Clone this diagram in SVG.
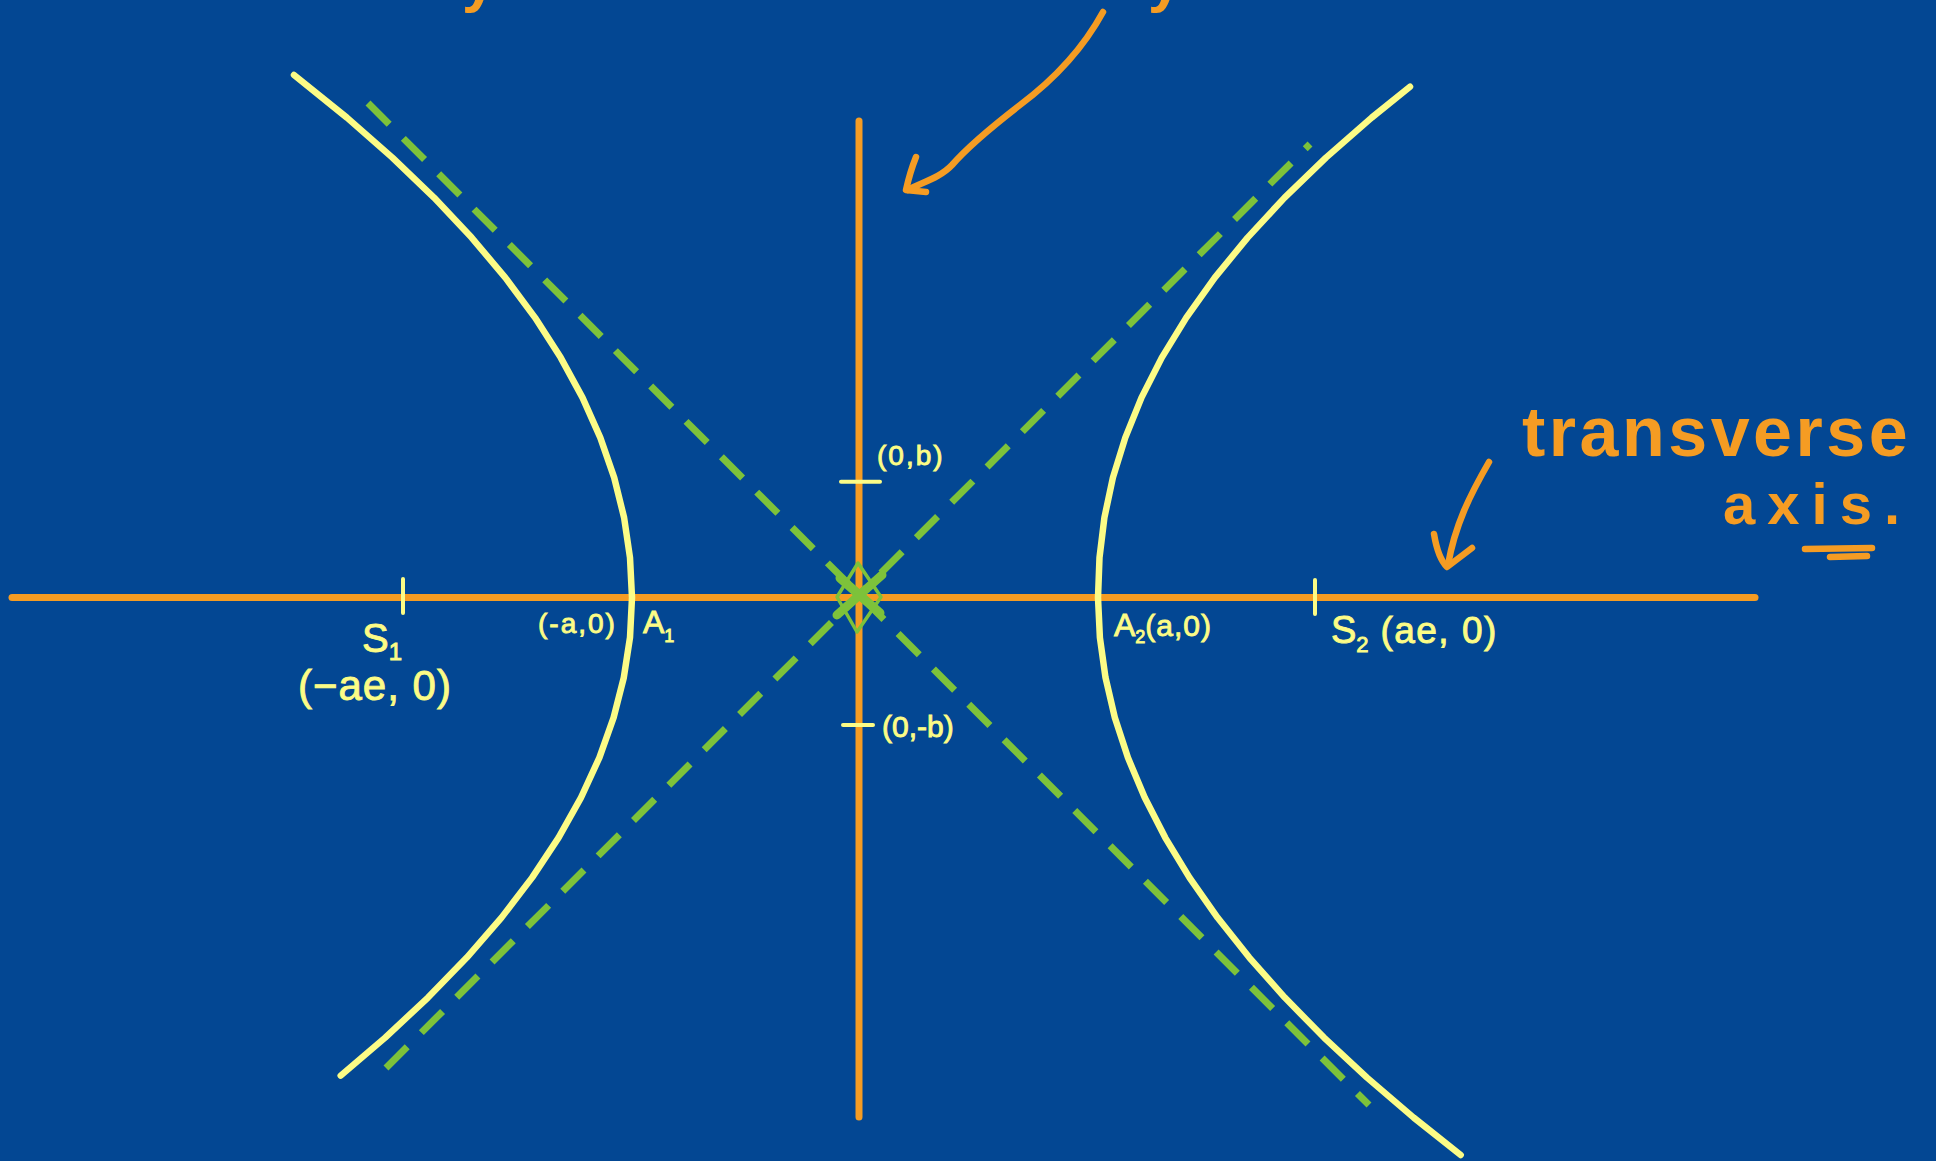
<svg xmlns="http://www.w3.org/2000/svg" width="1936" height="1161" viewBox="0 0 1936 1161">
<style>
.axis{stroke:#F59C23;stroke-width:7;stroke-linecap:round;fill:none}
.hyp{stroke:#FCFC86;stroke-width:6.5;stroke-linecap:round;stroke-linejoin:round;fill:none}
.asym{stroke:#7DC23A;stroke-width:7;stroke-dasharray:30 20;fill:none}
.tick{stroke:#FCFC86;stroke-width:4;stroke-linecap:round}
.lbl{fill:#FCFC86;stroke:#FCFC86;stroke-width:0.9;font-family:"Liberation Sans",Arial,sans-serif}
.ann{fill:#F59C23;font-family:"Liberation Sans",Arial,sans-serif;font-weight:bold}
.pen{stroke:#F59C23;stroke-width:6.5;stroke-linecap:round;stroke-linejoin:round;fill:none}
</style>
<rect width="1936" height="1161" fill="#034793"/>

<g id="axes">
<line class="axis" x1="12" y1="597.6" x2="1755" y2="597.6"/>
<line class="axis" x1="859" y1="121" x2="859" y2="1117"/>
</g>

<g id="hyperbola">
<polyline id="branch-left" class="hyp" points="294,75 346.9,117.6 392.4,157.6 434,197.6 471.6,237.6 505.3,277.6 535,317.6 560.7,357.6 582.5,397.6 600.3,437.6 614.2,477.6 624.1,517.6 630,557.6 632,597.6 630,637.6 623.8,677.6 613.6,717.6 599.4,757.6 581,797.6 558.6,837.6 532.1,877.6 501.5,917.6 466.8,957.6 428,997.6 385.2,1037.6 340.7,1075.6"/>
<polyline id="branch-right" class="hyp" points="1410,86.7 1371.7,117.6 1326,157.6 1284.6,197.6 1247.6,237.6 1214.8,277.6 1186.3,317.6 1161.8,357.6 1141.5,397.6 1125.3,437.6 1112.9,477.6 1104.4,517.6 1099.5,557.6 1098,597.6 1099.9,637.6 1105.5,677.6 1114.8,717.6 1127.9,757.6 1144.7,797.6 1165.2,837.6 1189.5,877.6 1217.5,917.6 1249.3,957.6 1284.8,997.6 1324,1037.6 1367,1077.6 1413.7,1117.6 1460.7,1155"/>
</g>

<g id="asymptotes">
<line class="asym" x1="368" y1="103" x2="1369" y2="1105"/>
<line class="asym" x1="386" y1="1068" x2="1310" y2="144"/>
<g id="centre-mark" stroke="#7DC23A" stroke-linecap="round" fill="none">
<path d="M858,563 L881,597 L857,632 L837,597 Z" stroke-width="3.5" stroke-linejoin="round"/>
<line x1="840" y1="578" x2="880" y2="613" stroke-width="9"/>
<line x1="837" y1="615" x2="882" y2="575" stroke-width="9"/>
</g>
</g>

<g id="ticks">
<line class="tick" x1="841" y1="481.7" x2="880" y2="481.7"/>
<line class="tick" x1="843" y1="725" x2="873" y2="725"/>
<line class="tick" x1="403" y1="579" x2="403" y2="613" stroke-width="5"/>
<line class="tick" x1="1315" y1="580" x2="1315" y2="614" stroke-width="5"/>
</g>

<g id="labels">
<text id="lbl-0b" class="lbl" x="877" y="465" font-size="28" letter-spacing="2">(0,b)</text>
<text id="lbl-0-b" class="lbl" x="882" y="737" font-size="30">(0,-b)</text>
<text id="lbl-a0" class="lbl" x="538" y="633" font-size="28" letter-spacing="2">(-a,0)</text>
<text id="lbl-A1" class="lbl" x="643" y="633" font-size="32">A<tspan font-size="18" dy="9">1</tspan></text>
<text id="lbl-S1" class="lbl" x="362" y="652" font-size="40">S<tspan font-size="24" dy="8">1</tspan></text>
<text id="lbl-ae" class="lbl" x="298" y="700" font-size="42" letter-spacing="1">(−ae, 0)</text>
<text id="lbl-A2" class="lbl" x="1114" y="636" font-size="32">A<tspan font-size="18" dy="7">2</tspan><tspan dy="-7" font-size="30" letter-spacing="1">(a,0)</tspan></text>
<text id="lbl-S2" class="lbl" x="1331" y="643" font-size="38">S<tspan font-size="22" dy="9">2</tspan><tspan dy="-9" font-size="37" letter-spacing="1.5"> (ae, 0)</tspan></text>
</g>

<g id="annotation-transverse">
<text class="ann" x="1522" y="456" font-size="70" letter-spacing="3.5">transverse</text>
<text class="ann" x="1723" y="524" font-size="58" letter-spacing="12">axis.</text>
<line class="pen" x1="1805" y1="549" x2="1872" y2="548"/>
<line class="pen" x1="1830" y1="557" x2="1867" y2="556"/>
<path class="pen" d="M1489,462 C1470,495 1455,525 1448,565"/>
<path class="pen" d="M1434,534 Q1438,558 1447,567 L1472,548"/>
</g>

<g id="annotation-top">
<text class="ann" x="462" y="1" font-size="60">y</text>
<text class="ann" x="1148" y="1" font-size="60">y</text>
<path class="pen" d="M1103,12 C1085,45 1060,75 1020,105 C985,132 965,150 952,165 C940,178 920,183 908,190"/>
<path class="pen" d="M916,157 Q910,172 906,190 L926,192"/>
</g>
</svg>
